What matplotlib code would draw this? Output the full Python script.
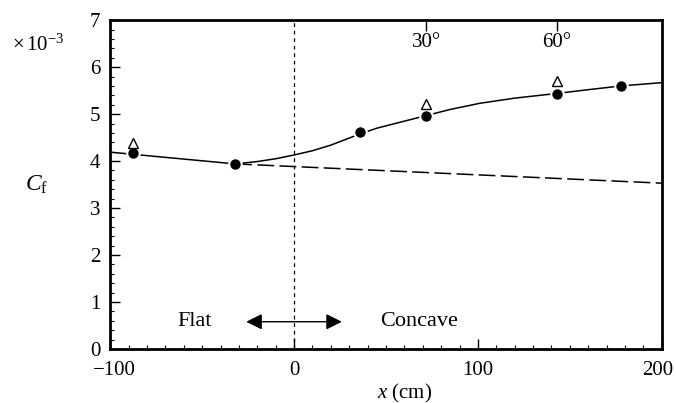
import numpy as np
import matplotlib
matplotlib.use("Agg")
import matplotlib.pyplot as plt
import matplotlib.transforms as mtransforms
from matplotlib.ticker import MultipleLocator

plt.rcParams["font.family"] = ["Liberation Serif", "DejaVu Serif"]
plt.rcParams["mathtext.fontset"] = "custom"
plt.rcParams["mathtext.rm"] = "Liberation Serif"
plt.rcParams["mathtext.it"] = "Liberation Serif:italic"

# Measured data (Cf x 1e3)
x_meas = [-87.5, -32, 36, 72, 143, 178]
cf_meas = [4.17, 3.94, 4.61, 4.96, 5.43, 5.60]

x_tri = [-87.5, 72, 143]
cf_tri = [4.38, 5.21, 5.71]

# Faired solid curve
x_curve = [-100, -32, -20, -10, 0, 10, 20, 28, 36, 45, 60, 72, 85, 101, 120, 143, 160, 178, 200]
cf_curve = [4.19, 3.94, 3.99, 4.05, 4.13, 4.22, 4.34, 4.46, 4.58, 4.70, 4.85, 4.97, 5.10, 5.23, 5.34, 5.44, 5.52, 5.60, 5.67]

# Flat-plate extrapolation (dashed)
x_flat = [-32, 200]
cf_flat = [3.94, 3.53]

angle_x = [72, 143]
angle_labels = ["30°", "60°"]

fig = plt.figure(figsize=(6.76, 4.03), dpi=100)
ax = fig.add_axes([0.163, 0.134, 0.816, 0.816])

ax.plot(x_curve, cf_curve, color="black", lw=1.1)
ax.plot(x_flat, cf_flat, color="black", lw=1.1, dashes=(11, 3.5))
ax.plot(x_meas, cf_meas, "o", color="black", ms=9, mec="white", mew=1.5)
ax.plot(x_tri, cf_tri, "^", mfc="white", mec="black", ms=6.5, mew=1.0)

ax.axvline(0, color="black", lw=0.9, dashes=(3, 3))

ax.annotate("", xy=(-26, 0.58), xytext=(26, 0.58),
            arrowprops=dict(arrowstyle="<|-|>", color="black", lw=1.0,
                            mutation_scale=24, shrinkA=0, shrinkB=0))
ax.text(-54, 0.58, "Flat", fontsize=16, ha="center", va="center")
ax.text(47, 0.58, "Concave", fontsize=16, ha="left", va="center")

for xa, lab in zip(angle_x, angle_labels):
    ax.text(xa, 6.53, lab, fontsize=15, ha="center", va="center")

ax.set_xlim(-100, 200)
ax.set_ylim(0, 7)
ax.xaxis.set_major_locator(MultipleLocator(100))
ax.xaxis.set_minor_locator(MultipleLocator(10))
ax.yaxis.set_major_locator(MultipleLocator(1))
ax.yaxis.set_minor_locator(MultipleLocator(0.2))
ax.tick_params(which="major", direction="in", length=7, width=1.0, labelsize=15, pad=7)
ax.tick_params(axis="x", which="major", pad=9)
ax.tick_params(which="minor", direction="in", length=3, width=0.8)
ax.set_xticks([-100, 0, 100, 200])
ax.set_xticklabels(["\u2212100", "0", "100", "200"])

# nudge the end labels so they stay inside the figure
labels = ax.get_xticklabels()
labels[0].set_transform(labels[0].get_transform() +
                        mtransforms.ScaledTranslation(4 / 100, 0, fig.dpi_scale_trans))
labels[-1].set_transform(labels[-1].get_transform() +
                         mtransforms.ScaledTranslation(-4 / 100, 0, fig.dpi_scale_trans))

# ticks along the top marking the bend angles
top = ax.secondary_xaxis("top")
top.set_xticks(angle_x)
top.tick_params(direction="in", length=8, width=1.0, labeltop=False)
top.spines["top"].set_visible(False)

for s in ax.spines.values():
    s.set_linewidth(2.0)

fig.text(12 / 676, 1 - 45 / 403, "$\\times\\,10^{-3}$", fontsize=15, ha="left", va="center")
fig.text(37 / 676, 1 - 185 / 403, "$C_{\\mathrm{f}}$", fontsize=17, ha="center", va="center")
fig.text(405 / 676, 1 - 393 / 403, "$x$ (cm)", fontsize=15, ha="center", va="center")

fig.savefig("out.png", dpi=100)
